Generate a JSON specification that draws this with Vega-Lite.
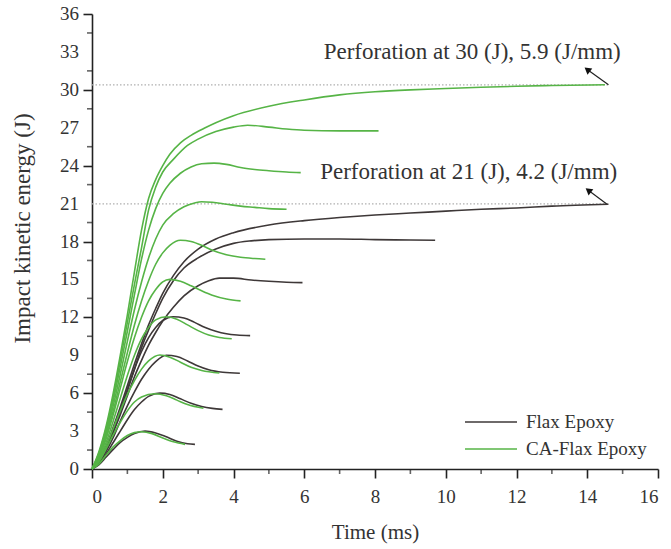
{
  "$schema": "https://vega.github.io/schema/vega-lite/v6.json",
  "width": 566,
  "height": 455,
  "autosize": {"type": "none"},
  "padding": {"left": 92, "top": 14, "right": 13, "bottom": 80},
  "background": "white",
  "config": {
    "view": {"stroke": null},
    "font": "Liberation Serif",
    "axis": {"labelFont": "Liberation Serif", "titleFont": "Liberation Serif", "labelColor": "#333", "titleColor": "#333", "titleFontWeight": "normal", "domainColor": "#222", "tickColor": "#222", "domainWidth": 1.6, "tickWidth": 1.6, "grid": false},
    "legend": {"labelFont": "Liberation Serif"}
  },
  "datasets": {
    "curves": [
      {"group":"Flax Epoxy","id":"F3","time":0,"energy":0},{"group":"Flax Epoxy","id":"F3","time":0.2,"energy":0.35},{"group":"Flax Epoxy","id":"F3","time":0.4,"energy":0.95},{"group":"Flax Epoxy","id":"F3","time":0.6,"energy":1.55},{"group":"Flax Epoxy","id":"F3","time":0.8,"energy":2.1},{"group":"Flax Epoxy","id":"F3","time":1.0,"energy":2.5},{"group":"Flax Epoxy","id":"F3","time":1.2,"energy":2.8},{"group":"Flax Epoxy","id":"F3","time":1.5,"energy":3.0},{"group":"Flax Epoxy","id":"F3","time":1.8,"energy":2.85},{"group":"Flax Epoxy","id":"F3","time":2.1,"energy":2.55},{"group":"Flax Epoxy","id":"F3","time":2.4,"energy":2.2},{"group":"Flax Epoxy","id":"F3","time":2.7,"energy":2.0},{"group":"Flax Epoxy","id":"F3","time":2.91,"energy":1.95},
      {"group":"Flax Epoxy","id":"F6","time":0,"energy":0},{"group":"Flax Epoxy","id":"F6","time":0.2,"energy":0.45},{"group":"Flax Epoxy","id":"F6","time":0.4,"energy":1.2},{"group":"Flax Epoxy","id":"F6","time":0.6,"energy":2.1},{"group":"Flax Epoxy","id":"F6","time":0.8,"energy":3.0},{"group":"Flax Epoxy","id":"F6","time":1.0,"energy":3.9},{"group":"Flax Epoxy","id":"F6","time":1.2,"energy":4.7},{"group":"Flax Epoxy","id":"F6","time":1.4,"energy":5.3},{"group":"Flax Epoxy","id":"F6","time":1.6,"energy":5.75},{"group":"Flax Epoxy","id":"F6","time":1.92,"energy":6.0},{"group":"Flax Epoxy","id":"F6","time":2.2,"energy":5.9},{"group":"Flax Epoxy","id":"F6","time":2.5,"energy":5.55},{"group":"Flax Epoxy","id":"F6","time":2.8,"energy":5.2},{"group":"Flax Epoxy","id":"F6","time":3.1,"energy":4.95},{"group":"Flax Epoxy","id":"F6","time":3.4,"energy":4.8},{"group":"Flax Epoxy","id":"F6","time":3.69,"energy":4.72},
      {"group":"Flax Epoxy","id":"F9","time":0,"energy":0},{"group":"Flax Epoxy","id":"F9","time":0.2,"energy":0.5},{"group":"Flax Epoxy","id":"F9","time":0.4,"energy":1.4},{"group":"Flax Epoxy","id":"F9","time":0.6,"energy":2.5},{"group":"Flax Epoxy","id":"F9","time":0.8,"energy":3.8},{"group":"Flax Epoxy","id":"F9","time":1.0,"energy":5.0},{"group":"Flax Epoxy","id":"F9","time":1.2,"energy":6.1},{"group":"Flax Epoxy","id":"F9","time":1.4,"energy":7.1},{"group":"Flax Epoxy","id":"F9","time":1.6,"energy":7.9},{"group":"Flax Epoxy","id":"F9","time":1.8,"energy":8.5},{"group":"Flax Epoxy","id":"F9","time":2.1,"energy":9.0},{"group":"Flax Epoxy","id":"F9","time":2.4,"energy":8.9},{"group":"Flax Epoxy","id":"F9","time":2.7,"energy":8.55},{"group":"Flax Epoxy","id":"F9","time":3.0,"energy":8.15},{"group":"Flax Epoxy","id":"F9","time":3.3,"energy":7.85},{"group":"Flax Epoxy","id":"F9","time":3.7,"energy":7.65},{"group":"Flax Epoxy","id":"F9","time":4.18,"energy":7.57},
      {"group":"Flax Epoxy","id":"F12","time":0,"energy":0},{"group":"Flax Epoxy","id":"F12","time":0.2,"energy":0.6},{"group":"Flax Epoxy","id":"F12","time":0.4,"energy":1.6},{"group":"Flax Epoxy","id":"F12","time":0.6,"energy":3.0},{"group":"Flax Epoxy","id":"F12","time":0.8,"energy":4.6},{"group":"Flax Epoxy","id":"F12","time":1.0,"energy":6.3},{"group":"Flax Epoxy","id":"F12","time":1.2,"energy":7.9},{"group":"Flax Epoxy","id":"F12","time":1.4,"energy":9.3},{"group":"Flax Epoxy","id":"F12","time":1.6,"energy":10.4},{"group":"Flax Epoxy","id":"F12","time":1.8,"energy":11.2},{"group":"Flax Epoxy","id":"F12","time":2.0,"energy":11.75},{"group":"Flax Epoxy","id":"F12","time":2.3,"energy":12.05},{"group":"Flax Epoxy","id":"F12","time":2.6,"energy":11.95},{"group":"Flax Epoxy","id":"F12","time":2.9,"energy":11.6},{"group":"Flax Epoxy","id":"F12","time":3.2,"energy":11.2},{"group":"Flax Epoxy","id":"F12","time":3.5,"energy":10.9},{"group":"Flax Epoxy","id":"F12","time":3.8,"energy":10.7},{"group":"Flax Epoxy","id":"F12","time":4.1,"energy":10.6},{"group":"Flax Epoxy","id":"F12","time":4.47,"energy":10.55},
      {"group":"Flax Epoxy","id":"F15","time":0,"energy":0},{"group":"Flax Epoxy","id":"F15","time":0.2,"energy":0.6},{"group":"Flax Epoxy","id":"F15","time":0.4,"energy":1.6},{"group":"Flax Epoxy","id":"F15","time":0.6,"energy":2.9},{"group":"Flax Epoxy","id":"F15","time":0.8,"energy":4.3},{"group":"Flax Epoxy","id":"F15","time":1.0,"energy":5.8},{"group":"Flax Epoxy","id":"F15","time":1.2,"energy":7.3},{"group":"Flax Epoxy","id":"F15","time":1.4,"energy":8.6},{"group":"Flax Epoxy","id":"F15","time":1.6,"energy":9.8},{"group":"Flax Epoxy","id":"F15","time":1.8,"energy":10.8},{"group":"Flax Epoxy","id":"F15","time":2.0,"energy":11.7},{"group":"Flax Epoxy","id":"F15","time":2.3,"energy":12.8},{"group":"Flax Epoxy","id":"F15","time":2.6,"energy":13.7},{"group":"Flax Epoxy","id":"F15","time":3.0,"energy":14.5},{"group":"Flax Epoxy","id":"F15","time":3.3,"energy":14.9},{"group":"Flax Epoxy","id":"F15","time":3.6,"energy":15.1},{"group":"Flax Epoxy","id":"F15","time":4.0,"energy":15.1},{"group":"Flax Epoxy","id":"F15","time":4.5,"energy":14.95},{"group":"Flax Epoxy","id":"F15","time":5.0,"energy":14.85},{"group":"Flax Epoxy","id":"F15","time":5.5,"energy":14.78},{"group":"Flax Epoxy","id":"F15","time":5.95,"energy":14.75},
      {"group":"Flax Epoxy","id":"F18","time":0,"energy":0},{"group":"Flax Epoxy","id":"F18","time":0.2,"energy":0.65},{"group":"Flax Epoxy","id":"F18","time":0.4,"energy":1.7},{"group":"Flax Epoxy","id":"F18","time":0.6,"energy":3.1},{"group":"Flax Epoxy","id":"F18","time":0.8,"energy":4.6},{"group":"Flax Epoxy","id":"F18","time":1.0,"energy":6.2},{"group":"Flax Epoxy","id":"F18","time":1.2,"energy":7.9},{"group":"Flax Epoxy","id":"F18","time":1.4,"energy":9.6},{"group":"Flax Epoxy","id":"F18","time":1.6,"energy":11.0},{"group":"Flax Epoxy","id":"F18","time":1.8,"energy":12.3},{"group":"Flax Epoxy","id":"F18","time":2.0,"energy":13.5},{"group":"Flax Epoxy","id":"F18","time":2.3,"energy":14.9},{"group":"Flax Epoxy","id":"F18","time":2.6,"energy":15.9},{"group":"Flax Epoxy","id":"F18","time":3.0,"energy":16.7},{"group":"Flax Epoxy","id":"F18","time":3.5,"energy":17.4},{"group":"Flax Epoxy","id":"F18","time":4.0,"energy":17.85},{"group":"Flax Epoxy","id":"F18","time":4.5,"energy":18.05},{"group":"Flax Epoxy","id":"F18","time":5.0,"energy":18.15},{"group":"Flax Epoxy","id":"F18","time":6.0,"energy":18.2},{"group":"Flax Epoxy","id":"F18","time":7.0,"energy":18.2},{"group":"Flax Epoxy","id":"F18","time":8.0,"energy":18.15},{"group":"Flax Epoxy","id":"F18","time":9.0,"energy":18.12},{"group":"Flax Epoxy","id":"F18","time":9.7,"energy":18.1},
      {"group":"Flax Epoxy","id":"F21","time":0,"energy":0},{"group":"Flax Epoxy","id":"F21","time":0.2,"energy":0.7},{"group":"Flax Epoxy","id":"F21","time":0.4,"energy":1.8},{"group":"Flax Epoxy","id":"F21","time":0.6,"energy":3.3},{"group":"Flax Epoxy","id":"F21","time":0.8,"energy":4.9},{"group":"Flax Epoxy","id":"F21","time":1.0,"energy":6.6},{"group":"Flax Epoxy","id":"F21","time":1.2,"energy":8.3},{"group":"Flax Epoxy","id":"F21","time":1.4,"energy":9.9},{"group":"Flax Epoxy","id":"F21","time":1.6,"energy":11.4},{"group":"Flax Epoxy","id":"F21","time":1.8,"energy":12.7},{"group":"Flax Epoxy","id":"F21","time":2.0,"energy":13.9},{"group":"Flax Epoxy","id":"F21","time":2.3,"energy":15.3},{"group":"Flax Epoxy","id":"F21","time":2.6,"energy":16.4},{"group":"Flax Epoxy","id":"F21","time":3.0,"energy":17.4},{"group":"Flax Epoxy","id":"F21","time":3.5,"energy":18.2},{"group":"Flax Epoxy","id":"F21","time":4.0,"energy":18.7},{"group":"Flax Epoxy","id":"F21","time":5.0,"energy":19.3},{"group":"Flax Epoxy","id":"F21","time":6.0,"energy":19.65},{"group":"Flax Epoxy","id":"F21","time":7.0,"energy":19.9},{"group":"Flax Epoxy","id":"F21","time":8.0,"energy":20.1},{"group":"Flax Epoxy","id":"F21","time":9.0,"energy":20.25},{"group":"Flax Epoxy","id":"F21","time":10.0,"energy":20.4},{"group":"Flax Epoxy","id":"F21","time":11.0,"energy":20.55},{"group":"Flax Epoxy","id":"F21","time":12.0,"energy":20.65},{"group":"Flax Epoxy","id":"F21","time":13.0,"energy":20.8},{"group":"Flax Epoxy","id":"F21","time":14.6,"energy":20.95},
      {"group":"CA-Flax Epoxy","id":"G3","time":0,"energy":0},{"group":"CA-Flax Epoxy","id":"G3","time":0.2,"energy":0.4},{"group":"CA-Flax Epoxy","id":"G3","time":0.4,"energy":1.1},{"group":"CA-Flax Epoxy","id":"G3","time":0.6,"energy":1.75},{"group":"CA-Flax Epoxy","id":"G3","time":0.8,"energy":2.25},{"group":"CA-Flax Epoxy","id":"G3","time":1.0,"energy":2.65},{"group":"CA-Flax Epoxy","id":"G3","time":1.2,"energy":2.88},{"group":"CA-Flax Epoxy","id":"G3","time":1.4,"energy":2.95},{"group":"CA-Flax Epoxy","id":"G3","time":1.7,"energy":2.8},{"group":"CA-Flax Epoxy","id":"G3","time":2.0,"energy":2.45},{"group":"CA-Flax Epoxy","id":"G3","time":2.3,"energy":2.15},{"group":"CA-Flax Epoxy","id":"G3","time":2.63,"energy":1.95},
      {"group":"CA-Flax Epoxy","id":"G6","time":0,"energy":0},{"group":"CA-Flax Epoxy","id":"G6","time":0.2,"energy":0.6},{"group":"CA-Flax Epoxy","id":"G6","time":0.4,"energy":1.6},{"group":"CA-Flax Epoxy","id":"G6","time":0.6,"energy":2.7},{"group":"CA-Flax Epoxy","id":"G6","time":0.8,"energy":3.7},{"group":"CA-Flax Epoxy","id":"G6","time":1.0,"energy":4.6},{"group":"CA-Flax Epoxy","id":"G6","time":1.2,"energy":5.3},{"group":"CA-Flax Epoxy","id":"G6","time":1.4,"energy":5.7},{"group":"CA-Flax Epoxy","id":"G6","time":1.78,"energy":5.95},{"group":"CA-Flax Epoxy","id":"G6","time":2.1,"energy":5.8},{"group":"CA-Flax Epoxy","id":"G6","time":2.4,"energy":5.45},{"group":"CA-Flax Epoxy","id":"G6","time":2.7,"energy":5.1},{"group":"CA-Flax Epoxy","id":"G6","time":3.15,"energy":4.8},
      {"group":"CA-Flax Epoxy","id":"G9","time":0,"energy":0},{"group":"CA-Flax Epoxy","id":"G9","time":0.2,"energy":0.7},{"group":"CA-Flax Epoxy","id":"G9","time":0.4,"energy":1.8},{"group":"CA-Flax Epoxy","id":"G9","time":0.6,"energy":3.2},{"group":"CA-Flax Epoxy","id":"G9","time":0.8,"energy":4.6},{"group":"CA-Flax Epoxy","id":"G9","time":1.0,"energy":5.9},{"group":"CA-Flax Epoxy","id":"G9","time":1.2,"energy":7.0},{"group":"CA-Flax Epoxy","id":"G9","time":1.4,"energy":7.9},{"group":"CA-Flax Epoxy","id":"G9","time":1.6,"energy":8.55},{"group":"CA-Flax Epoxy","id":"G9","time":1.92,"energy":9.02},{"group":"CA-Flax Epoxy","id":"G9","time":2.2,"energy":8.85},{"group":"CA-Flax Epoxy","id":"G9","time":2.5,"energy":8.45},{"group":"CA-Flax Epoxy","id":"G9","time":2.8,"energy":8.05},{"group":"CA-Flax Epoxy","id":"G9","time":3.1,"energy":7.8},{"group":"CA-Flax Epoxy","id":"G9","time":3.6,"energy":7.6},
      {"group":"CA-Flax Epoxy","id":"G12","time":0,"energy":0},{"group":"CA-Flax Epoxy","id":"G12","time":0.2,"energy":0.8},{"group":"CA-Flax Epoxy","id":"G12","time":0.4,"energy":2.1},{"group":"CA-Flax Epoxy","id":"G12","time":0.6,"energy":3.8},{"group":"CA-Flax Epoxy","id":"G12","time":0.8,"energy":5.6},{"group":"CA-Flax Epoxy","id":"G12","time":1.0,"energy":7.4},{"group":"CA-Flax Epoxy","id":"G12","time":1.2,"energy":9.0},{"group":"CA-Flax Epoxy","id":"G12","time":1.4,"energy":10.3},{"group":"CA-Flax Epoxy","id":"G12","time":1.6,"energy":11.2},{"group":"CA-Flax Epoxy","id":"G12","time":1.8,"energy":11.8},{"group":"CA-Flax Epoxy","id":"G12","time":2.1,"energy":12.05},{"group":"CA-Flax Epoxy","id":"G12","time":2.4,"energy":11.85},{"group":"CA-Flax Epoxy","id":"G12","time":2.7,"energy":11.4},{"group":"CA-Flax Epoxy","id":"G12","time":3.0,"energy":10.95},{"group":"CA-Flax Epoxy","id":"G12","time":3.3,"energy":10.6},{"group":"CA-Flax Epoxy","id":"G12","time":3.6,"energy":10.4},{"group":"CA-Flax Epoxy","id":"G12","time":3.95,"energy":10.3},
      {"group":"CA-Flax Epoxy","id":"G15","time":0,"energy":0},{"group":"CA-Flax Epoxy","id":"G15","time":0.2,"energy":0.9},{"group":"CA-Flax Epoxy","id":"G15","time":0.4,"energy":2.4},{"group":"CA-Flax Epoxy","id":"G15","time":0.6,"energy":4.3},{"group":"CA-Flax Epoxy","id":"G15","time":0.8,"energy":6.4},{"group":"CA-Flax Epoxy","id":"G15","time":1.0,"energy":8.5},{"group":"CA-Flax Epoxy","id":"G15","time":1.2,"energy":10.4},{"group":"CA-Flax Epoxy","id":"G15","time":1.4,"energy":12.0},{"group":"CA-Flax Epoxy","id":"G15","time":1.6,"energy":13.3},{"group":"CA-Flax Epoxy","id":"G15","time":1.8,"energy":14.2},{"group":"CA-Flax Epoxy","id":"G15","time":2.0,"energy":14.8},{"group":"CA-Flax Epoxy","id":"G15","time":2.2,"energy":15.0},{"group":"CA-Flax Epoxy","id":"G15","time":2.5,"energy":14.85},{"group":"CA-Flax Epoxy","id":"G15","time":2.8,"energy":14.5},{"group":"CA-Flax Epoxy","id":"G15","time":3.1,"energy":14.1},{"group":"CA-Flax Epoxy","id":"G15","time":3.4,"energy":13.75},{"group":"CA-Flax Epoxy","id":"G15","time":3.8,"energy":13.45},{"group":"CA-Flax Epoxy","id":"G15","time":4.2,"energy":13.3},
      {"group":"CA-Flax Epoxy","id":"G18","time":0,"energy":0},{"group":"CA-Flax Epoxy","id":"G18","time":0.2,"energy":1.0},{"group":"CA-Flax Epoxy","id":"G18","time":0.4,"energy":2.6},{"group":"CA-Flax Epoxy","id":"G18","time":0.6,"energy":4.6},{"group":"CA-Flax Epoxy","id":"G18","time":0.8,"energy":6.9},{"group":"CA-Flax Epoxy","id":"G18","time":1.0,"energy":9.2},{"group":"CA-Flax Epoxy","id":"G18","time":1.2,"energy":11.4},{"group":"CA-Flax Epoxy","id":"G18","time":1.4,"energy":13.3},{"group":"CA-Flax Epoxy","id":"G18","time":1.6,"energy":14.9},{"group":"CA-Flax Epoxy","id":"G18","time":1.8,"energy":16.2},{"group":"CA-Flax Epoxy","id":"G18","time":2.0,"energy":17.1},{"group":"CA-Flax Epoxy","id":"G18","time":2.2,"energy":17.7},{"group":"CA-Flax Epoxy","id":"G18","time":2.5,"energy":18.1},{"group":"CA-Flax Epoxy","id":"G18","time":2.8,"energy":18.0},{"group":"CA-Flax Epoxy","id":"G18","time":3.1,"energy":17.7},{"group":"CA-Flax Epoxy","id":"G18","time":3.4,"energy":17.3},{"group":"CA-Flax Epoxy","id":"G18","time":3.8,"energy":16.95},{"group":"CA-Flax Epoxy","id":"G18","time":4.2,"energy":16.75},{"group":"CA-Flax Epoxy","id":"G18","time":4.6,"energy":16.65},{"group":"CA-Flax Epoxy","id":"G18","time":4.9,"energy":16.6},
      {"group":"CA-Flax Epoxy","id":"G21","time":0,"energy":0},{"group":"CA-Flax Epoxy","id":"G21","time":0.2,"energy":1.1},{"group":"CA-Flax Epoxy","id":"G21","time":0.4,"energy":2.8},{"group":"CA-Flax Epoxy","id":"G21","time":0.6,"energy":5.0},{"group":"CA-Flax Epoxy","id":"G21","time":0.8,"energy":7.5},{"group":"CA-Flax Epoxy","id":"G21","time":1.0,"energy":10.1},{"group":"CA-Flax Epoxy","id":"G21","time":1.2,"energy":12.6},{"group":"CA-Flax Epoxy","id":"G21","time":1.4,"energy":14.8},{"group":"CA-Flax Epoxy","id":"G21","time":1.6,"energy":16.7},{"group":"CA-Flax Epoxy","id":"G21","time":1.8,"energy":18.2},{"group":"CA-Flax Epoxy","id":"G21","time":2.0,"energy":19.3},{"group":"CA-Flax Epoxy","id":"G21","time":2.3,"energy":20.2},{"group":"CA-Flax Epoxy","id":"G21","time":2.6,"energy":20.75},{"group":"CA-Flax Epoxy","id":"G21","time":2.9,"energy":21.05},{"group":"CA-Flax Epoxy","id":"G21","time":3.1,"energy":21.15},{"group":"CA-Flax Epoxy","id":"G21","time":3.4,"energy":21.1},{"group":"CA-Flax Epoxy","id":"G21","time":3.8,"energy":20.95},{"group":"CA-Flax Epoxy","id":"G21","time":4.2,"energy":20.8},{"group":"CA-Flax Epoxy","id":"G21","time":4.6,"energy":20.7},{"group":"CA-Flax Epoxy","id":"G21","time":5.0,"energy":20.6},{"group":"CA-Flax Epoxy","id":"G21","time":5.5,"energy":20.55},
      {"group":"CA-Flax Epoxy","id":"G24","time":0,"energy":0},{"group":"CA-Flax Epoxy","id":"G24","time":0.2,"energy":1.2},{"group":"CA-Flax Epoxy","id":"G24","time":0.4,"energy":3.0},{"group":"CA-Flax Epoxy","id":"G24","time":0.6,"energy":5.4},{"group":"CA-Flax Epoxy","id":"G24","time":0.8,"energy":8.1},{"group":"CA-Flax Epoxy","id":"G24","time":1.0,"energy":10.9},{"group":"CA-Flax Epoxy","id":"G24","time":1.2,"energy":13.8},{"group":"CA-Flax Epoxy","id":"G24","time":1.4,"energy":16.6},{"group":"CA-Flax Epoxy","id":"G24","time":1.6,"energy":18.9},{"group":"CA-Flax Epoxy","id":"G24","time":1.8,"energy":20.6},{"group":"CA-Flax Epoxy","id":"G24","time":2.0,"energy":21.8},{"group":"CA-Flax Epoxy","id":"G24","time":2.2,"energy":22.6},{"group":"CA-Flax Epoxy","id":"G24","time":2.5,"energy":23.4},{"group":"CA-Flax Epoxy","id":"G24","time":2.8,"energy":23.9},{"group":"CA-Flax Epoxy","id":"G24","time":3.1,"energy":24.15},{"group":"CA-Flax Epoxy","id":"G24","time":3.45,"energy":24.2},{"group":"CA-Flax Epoxy","id":"G24","time":3.8,"energy":24.1},{"group":"CA-Flax Epoxy","id":"G24","time":4.2,"energy":23.85},{"group":"CA-Flax Epoxy","id":"G24","time":4.6,"energy":23.7},{"group":"CA-Flax Epoxy","id":"G24","time":5.0,"energy":23.6},{"group":"CA-Flax Epoxy","id":"G24","time":5.5,"energy":23.5},{"group":"CA-Flax Epoxy","id":"G24","time":5.9,"energy":23.45},
      {"group":"CA-Flax Epoxy","id":"G27","time":0,"energy":0},{"group":"CA-Flax Epoxy","id":"G27","time":0.2,"energy":1.3},{"group":"CA-Flax Epoxy","id":"G27","time":0.4,"energy":3.2},{"group":"CA-Flax Epoxy","id":"G27","time":0.6,"energy":5.7},{"group":"CA-Flax Epoxy","id":"G27","time":0.8,"energy":8.6},{"group":"CA-Flax Epoxy","id":"G27","time":1.0,"energy":11.6},{"group":"CA-Flax Epoxy","id":"G27","time":1.2,"energy":14.6},{"group":"CA-Flax Epoxy","id":"G27","time":1.4,"energy":17.5},{"group":"CA-Flax Epoxy","id":"G27","time":1.6,"energy":20.5},{"group":"CA-Flax Epoxy","id":"G27","time":1.8,"energy":22.3},{"group":"CA-Flax Epoxy","id":"G27","time":2.0,"energy":23.5},{"group":"CA-Flax Epoxy","id":"G27","time":2.3,"energy":24.5},{"group":"CA-Flax Epoxy","id":"G27","time":2.7,"energy":25.6},{"group":"CA-Flax Epoxy","id":"G27","time":3.0,"energy":26.1},{"group":"CA-Flax Epoxy","id":"G27","time":3.5,"energy":26.7},{"group":"CA-Flax Epoxy","id":"G27","time":4.0,"energy":27.05},{"group":"CA-Flax Epoxy","id":"G27","time":4.4,"energy":27.2},{"group":"CA-Flax Epoxy","id":"G27","time":5.0,"energy":27.05},{"group":"CA-Flax Epoxy","id":"G27","time":5.5,"energy":26.9},{"group":"CA-Flax Epoxy","id":"G27","time":6.0,"energy":26.8},{"group":"CA-Flax Epoxy","id":"G27","time":7.0,"energy":26.75},{"group":"CA-Flax Epoxy","id":"G27","time":8.1,"energy":26.75},
      {"group":"CA-Flax Epoxy","id":"G30","time":0,"energy":0},{"group":"CA-Flax Epoxy","id":"G30","time":0.2,"energy":1.4},{"group":"CA-Flax Epoxy","id":"G30","time":0.4,"energy":3.4},{"group":"CA-Flax Epoxy","id":"G30","time":0.6,"energy":6.0},{"group":"CA-Flax Epoxy","id":"G30","time":0.8,"energy":9.0},{"group":"CA-Flax Epoxy","id":"G30","time":1.0,"energy":12.2},{"group":"CA-Flax Epoxy","id":"G30","time":1.2,"energy":15.6},{"group":"CA-Flax Epoxy","id":"G30","time":1.4,"energy":18.9},{"group":"CA-Flax Epoxy","id":"G30","time":1.6,"energy":21.4},{"group":"CA-Flax Epoxy","id":"G30","time":1.8,"energy":22.9},{"group":"CA-Flax Epoxy","id":"G30","time":2.0,"energy":24.0},{"group":"CA-Flax Epoxy","id":"G30","time":2.2,"energy":24.9},{"group":"CA-Flax Epoxy","id":"G30","time":2.5,"energy":25.8},{"group":"CA-Flax Epoxy","id":"G30","time":2.8,"energy":26.4},{"group":"CA-Flax Epoxy","id":"G30","time":3.2,"energy":27.0},{"group":"CA-Flax Epoxy","id":"G30","time":3.5,"energy":27.4},{"group":"CA-Flax Epoxy","id":"G30","time":4.0,"energy":27.95},{"group":"CA-Flax Epoxy","id":"G30","time":5.0,"energy":28.7},{"group":"CA-Flax Epoxy","id":"G30","time":6.0,"energy":29.2},{"group":"CA-Flax Epoxy","id":"G30","time":7.0,"energy":29.6},{"group":"CA-Flax Epoxy","id":"G30","time":8.0,"energy":29.85},{"group":"CA-Flax Epoxy","id":"G30","time":9.0,"energy":30.0},{"group":"CA-Flax Epoxy","id":"G30","time":10.0,"energy":30.1},{"group":"CA-Flax Epoxy","id":"G30","time":11.0,"energy":30.2},{"group":"CA-Flax Epoxy","id":"G30","time":12.0,"energy":30.28},{"group":"CA-Flax Epoxy","id":"G30","time":13.0,"energy":30.34},{"group":"CA-Flax Epoxy","id":"G30","time":14.5,"energy":30.4}
    ],
    "perforation": [
      {"energy": 30.4, "time": 14.6, "label": "Perforation at 30 (J), 5.9 (J/mm)", "textTime": 6.55, "textEnergy": 33.0, "tipTime": 14.0, "tipEnergy": 31.6},
      {"energy": 20.97, "time": 14.55, "label": "Perforation at 21 (J), 4.2 (J/mm)", "textTime": 6.45, "textEnergy": 23.5, "tipTime": 14.03, "tipEnergy": 22.05}
    ],
    "minorY": [{"energy":1.5},{"energy":4.5},{"energy":7.5},{"energy":10.5},{"energy":13.5},{"energy":16.5},{"energy":19.5},{"energy":22.5},{"energy":25.5},{"energy":28.5},{"energy":31.5},{"energy":34.5}],
    "minorX": [{"time":1},{"time":3},{"time":5},{"time":7},{"time":9},{"time":11},{"time":13},{"time":15}],
    "yLabels": [{"energy":0},{"energy":3},{"energy":6},{"energy":9},{"energy":12},{"energy":15},{"energy":18},{"energy":21},{"energy":24},{"energy":27},{"energy":30},{"energy":33},{"energy":36}]
  },
  "layer": [
    {
      "data": {"name": "perforation"},
      "mark": {"type": "rule", "stroke": "#b0b0b0", "strokeDash": [1.5, 2], "strokeWidth": 1.2},
      "encoding": {
        "x": {"datum": 0, "type": "quantitative"},
        "x2": {"datum": 14.6},
        "y": {"field": "energy", "type": "quantitative"}
      }
    },
    {
      "data": {"name": "curves"},
      "mark": {"type": "line", "interpolate": "monotone", "strokeWidth": 1.6},
      "encoding": {
        "x": {"field": "time", "type": "quantitative", "scale": {"domain": [0, 16], "nice": false},
          "axis": {"title": "Time (ms)", "values": [0,2,4,6,8,10,12,14,16], "tickSize": 9, "labelFontSize": 19, "labelPadding": 9, "titleFontSize": 21, "titlePadding": 15}},
        "y": {"field": "energy", "type": "quantitative", "scale": {"domain": [0, 36], "nice": false},
          "axis": {"title": "Impact kinetic energy (J)", "values": [0,3,6,9,12,15,18,21,24,27,30,33,36], "tickSize": 9, "labels": false, "titleFontSize": 23, "titleX": -70, "titleY": 214, "titleBaseline": "middle", "titleAngle": -90, "titleAlign": "center"}},
        "color": {"field": "group", "type": "nominal", "scale": {"domain": ["Flax Epoxy", "CA-Flax Epoxy"], "range": ["#3e3838", "#56b446"]},
          "legend": {"title": null, "orient": "none", "legendX": 388, "legendY": 397, "symbolType": "M-2.6,0H2.6", "symbolSize": 400, "symbolStrokeWidth": 1.6, "labelFontSize": 19, "labelColor": "#333", "rowPadding": 6, "labelOffset": 24}},
        "detail": {"field": "id"}
      }
    },
    {
      "data": {"name": "yLabels"},
      "mark": {"type": "text", "align": "right", "baseline": "middle", "fontSize": 19, "font": "Liberation Serif", "color": "#333", "xOffset": -13, "clip": false},
      "encoding": {
        "x": {"datum": 0, "type": "quantitative"},
        "y": {"field": "energy", "type": "quantitative"},
        "text": {"field": "energy", "type": "quantitative"}
      }
    },
    {
      "data": {"name": "minorY"},
      "mark": {"type": "tick", "orient": "horizontal", "size": 5, "thickness": 1.6, "color": "#222", "xOffset": -2.5, "clip": false},
      "encoding": {
        "x": {"datum": 0, "type": "quantitative"},
        "y": {"field": "energy", "type": "quantitative"}
      }
    },
    {
      "data": {"name": "minorX"},
      "mark": {"type": "tick", "orient": "vertical", "size": 5, "thickness": 1.6, "color": "#222", "yOffset": 2.5, "clip": false},
      "encoding": {
        "x": {"field": "time", "type": "quantitative"},
        "y": {"datum": 0, "type": "quantitative"}
      }
    },
    {
      "data": {"name": "perforation"},
      "mark": {"type": "rule", "stroke": "#222", "strokeWidth": 1.2},
      "encoding": {
        "x": {"field": "time", "type": "quantitative"},
        "y": {"field": "energy", "type": "quantitative"},
        "x2": {"field": "tipTime"},
        "y2": {"field": "tipEnergy"}
      }
    },
    {
      "data": {"name": "perforation"},
      "mark": {"type": "point", "shape": "triangle-up", "filled": true, "color": "#111", "size": 60, "angle": 308, "opacity": 1},
      "encoding": {
        "x": {"field": "tipTime", "type": "quantitative"},
        "y": {"field": "tipEnergy", "type": "quantitative"}
      }
    },
    {
      "data": {"name": "perforation"},
      "mark": {"type": "text", "align": "left", "baseline": "middle", "fontSize": 23, "font": "Liberation Serif", "color": "#333"},
      "encoding": {
        "x": {"field": "textTime", "type": "quantitative"},
        "y": {"field": "textEnergy", "type": "quantitative"},
        "text": {"field": "label"}
      }
    }
  ]
}
